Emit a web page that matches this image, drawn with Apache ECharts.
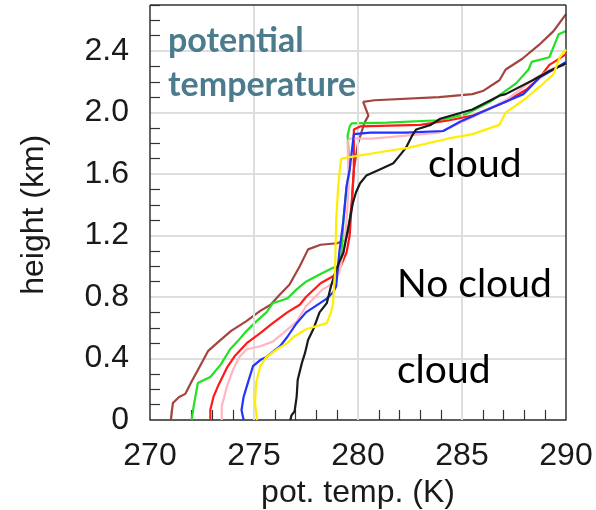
<!DOCTYPE html>
<html>
<head>
<meta charset="utf-8">
<script src="https://cdn.jsdelivr.net/npm/echarts@6/dist/echarts.min.js"></script>
<style>
  html, body { margin: 0; padding: 0; background: #fff; }
  #chart { width: 596px; height: 510px; }
</style>
</head>
<body>
<div id="chart"></div>
<script>
// Potential temperature profiles: [pot. temp. (K), height (km)]
const profileBrown = [
  [271.0,0],[271.1,0.11],[271.4,0.15],[271.7,0.17],[272.0,0.25],[272.4,0.35],[272.8,0.45],
  [273.3,0.51],[273.9,0.58],[274.6,0.64],[275.3,0.71],[275.8,0.75],[276.2,0.81],[276.7,0.88],
  [277.2,1.0],[277.6,1.11],[278.2,1.14],[279.0,1.15],[279.4,1.17],[279.55,1.24],[279.7,1.41],
  [279.8,1.63],[280.0,1.80],[280.3,1.93],[280.5,1.98],[280.25,2.07],[280.8,2.08],[283.9,2.10],
  [285.5,2.12],[286.0,2.14],[286.8,2.21],[287.1,2.28],[287.9,2.35],[288.7,2.44],[289.4,2.53],[290.0,2.64]
];
const profileGreen = [
  [272.0,0],[272.1,0.09],[272.3,0.24],[272.9,0.28],[273.4,0.36],[273.85,0.46],[274.2,0.51],
  [274.65,0.58],[275.1,0.64],[275.6,0.70],[275.9,0.76],[276.6,0.79],[277.05,0.85],[277.5,0.90],
  [278.2,0.95],[278.8,0.99],[279.05,1.0],[279.2,1.07],[279.3,1.30],[279.45,1.52],[279.6,1.63],
  [279.5,1.85],[279.6,1.91],[279.7,1.93],[281.4,1.935],[283.9,1.95],[285.2,1.99],[286.35,2.07],
  [287.6,2.19],[288.2,2.28],[288.35,2.33],[289.2,2.36],[289.5,2.46],[289.65,2.51],[290.0,2.53]
];
const profileRed = [
  [272.9,0],[272.9,0.065],[273.05,0.15],[273.3,0.23],[273.7,0.34],[274.1,0.42],[274.65,0.50],
  [275.3,0.565],[275.9,0.63],[276.6,0.70],[277.2,0.75],[277.5,0.80],[278.2,0.89],[278.8,0.935],
  [279.1,0.98],[279.45,1.09],[279.6,1.20],[279.7,1.41],[279.8,1.63],[279.8,1.89],[280.1,1.91],
  [283.0,1.92],[284.4,1.95],[285.5,1.98],[287.1,2.07],[288.1,2.15],[288.75,2.23],[289.2,2.31],
  [289.55,2.34],[290.0,2.38]
];
const profilePink = [
  [273.45,0],[273.45,0.09],[273.7,0.22],[274.0,0.33],[274.3,0.41],[274.65,0.46],[275.3,0.48],
  [275.9,0.51],[276.4,0.565],[277.05,0.64],[277.5,0.74],[278.3,0.85],[278.8,0.89],[279.1,0.96],
  [279.3,1.09],[279.45,1.30],[279.55,1.52],[279.5,1.81],[279.6,1.83],[280.7,1.83],[283.9,1.87],
  [285.5,1.97],[287.1,2.08],[288.6,2.23],[289.4,2.29],[290.0,2.31]
];
const profileBlue = [
  [274.5,0],[274.4,0.065],[274.5,0.15],[274.7,0.24],[274.95,0.35],[275.3,0.39],[275.6,0.41],
  [276.25,0.48],[276.6,0.54],[277.05,0.63],[277.5,0.70],[278.5,0.79],[278.8,0.83],[278.95,0.87],
  [279.1,1.09],[279.3,1.30],[279.45,1.52],[279.6,1.63],[279.8,1.86],[280.6,1.87],[282.3,1.87],
  [284.1,1.88],[284.9,1.94],[286.4,2.03],[287.95,2.12],[288.75,2.23],[289.4,2.28],[290.0,2.33]
];
const profileYellow = [
  [275.15,0],[275.05,0.11],[275.1,0.24],[275.3,0.35],[275.6,0.41],[276.1,0.46],[276.6,0.50],
  [276.9,0.54],[277.5,0.59],[278.5,0.63],[278.7,0.70],[278.8,0.76],[278.9,0.98],[278.95,1.30],
  [279.05,1.52],[279.15,1.66],[279.2,1.70],[279.6,1.71],[281.4,1.75],[282.4,1.77],[284.3,1.83],
  [285.5,1.86],[286.8,1.92],[287.1,2.0],[287.95,2.08],[288.75,2.17],[289.4,2.25],[289.7,2.36],[290.0,2.41]
];
const profileBlack = [
  [276.75,0],[276.8,0.03],[276.95,0.055],[277.05,0.15],[277.1,0.26],[277.3,0.37],[277.45,0.435],
  [277.6,0.52],[277.85,0.59],[278.15,0.70],[278.5,0.76],[278.7,0.87],[278.95,0.98],[279.3,1.09],
  [279.6,1.30],[279.75,1.41],[279.9,1.48],[280.1,1.54],[280.4,1.59],[281.05,1.63],[281.7,1.67],
  [282.0,1.72],[282.3,1.77],[282.6,1.85],[282.8,1.89],[283.5,1.92],[283.95,1.96],[285.5,2.02],
  [286.8,2.11],[287.1,2.12],[288.4,2.21],[289.2,2.27],[290.0,2.32]
];

// Axis ranges and tick spacing
const tempMin = 270, tempMax = 290, tempStep = 5;
const tempGridLines = [275, 280, 285];
const heightMin = 0, heightTop = 2.7, heightAxisMax = 2.8, heightStep = 0.4;

const profiles = [
  { data: profileBrown,  color: '#a3443f' },
  { data: profileGreen,  color: '#22e022' },
  { data: profileRed,    color: '#ff1a1a' },
  { data: profilePink,   color: '#ffb6c1' },
  { data: profileBlue,   color: '#2233ff' },
  { data: profileBlack,  color: '#1a1a1a' },
  { data: profileYellow, color: '#ffee00' }
];

const axisFont = { fontFamily: '"Liberation Sans", Arial, sans-serif', fontSize: 32, color: '#1a1a1a' };
const frameStyle = { color: '#333', type: 'solid', width: 1.5 };
const gridStyle = { color: '#dedede', type: 'solid', width: 2 };

const series = profiles.map((p, i) => ({
  type: 'line',
  data: p.data,
  showSymbol: false,
  smooth: false,
  animation: false,
  lineStyle: { color: p.color, width: 2.2 },
  z: 3 + i
}));

// Vertical grid lines, stopping at the top of the frame
series.push({
  type: 'line',
  data: [],
  z: 1,
  markLine: {
    silent: true, animation: false,
    symbol: ['none', 'none'],
    label: { show: false },
    lineStyle: gridStyle,
    data: tempGridLines.map(t => [{ coord: [t, heightMin] }, { coord: [t, heightTop] }])
  }
});

// Frame: left, right and top edges
series.push({
  type: 'line',
  data: [],
  z: 20,
  markLine: {
    silent: true, animation: false,
    symbol: ['none', 'none'],
    label: { show: false },
    lineStyle: frameStyle,
    data: [
      [{ coord: [tempMin, heightMin] }, { coord: [tempMin, heightTop] }],
      [{ coord: [tempMax, heightMin] }, { coord: [tempMax, heightTop] }],
      [{ coord: [tempMin, heightTop] }, { coord: [tempMax, heightTop] }]
    ]
  }
});

const chart = echarts.init(document.getElementById('chart'), null, { renderer: 'canvas' });
chart.setOption({
  animation: false,
  backgroundColor: '#fff',
  grid: {
    left: 150, right: 30, top: -10.4, bottom: 90,
    outerBoundsMode: 'none',
    containLabel: false,
    show: false
  },
  xAxis: {
    type: 'value',
    min: tempMin, max: tempMax, interval: tempStep,
    name: 'pot. temp. (K)',
    nameLocation: 'middle',
    nameGap: 54,
    nameTextStyle: { ...axisFont },
    axisLine: { show: true, lineStyle: { color: '#333', width: 1.5 } },
    axisTick: { show: false, inside: true },
    minorTick: { show: true, splitNumber: 5, length: 10, lineStyle: { color: '#333', width: 1.2 } },
    splitLine: { show: false },
    axisLabel: { ...axisFont, margin: 20, showMinLabel: true, showMaxLabel: true }
  },
  yAxis: {
    type: 'value',
    min: heightMin, max: heightAxisMax, interval: heightStep,
    name: 'height (km)',
    nameLocation: 'middle',
    nameGap: 100,
    nameTextStyle: { ...axisFont, padding: [0, 20, 0, 0] },
    axisLine: { show: false },
    axisTick: { show: false, inside: true },
    minorTick: { show: true, splitNumber: 4, length: 10, lineStyle: { color: '#333', width: 1.2 } },
    splitLine: { show: true, lineStyle: gridStyle },
    axisLabel: {
      ...axisFont, margin: 21, showMaxLabel: false,
      formatter: v => (v > heightTop ? '' : (v === 0 ? '0' : v.toFixed(1)))
    }
  },
  graphic: [
    { type: 'text', z: 100, x: 168, y: 41, style: { text: 'potential', font: 'bold 34px Lato', fill: '#4b7b8c', verticalAlign: 'middle' } },
    { type: 'text', z: 100, x: 168, y: 85, style: { text: 'temperature', font: 'bold 34px Lato', fill: '#4b7b8c', verticalAlign: 'middle' } },
    { type: 'text', z: 100, x: 428, y: 164, style: { text: 'cloud', font: '39px Lato', fill: '#000', verticalAlign: 'middle' } },
    { type: 'text', z: 100, x: 397, y: 284, style: { text: 'No cloud', font: '39px Lato', fill: '#000', verticalAlign: 'middle' } },
    { type: 'text', z: 100, x: 397, y: 370, style: { text: 'cloud', font: '39px Lato', fill: '#000', verticalAlign: 'middle' } }
  ],
  series
});
</script>
</body>
</html>
